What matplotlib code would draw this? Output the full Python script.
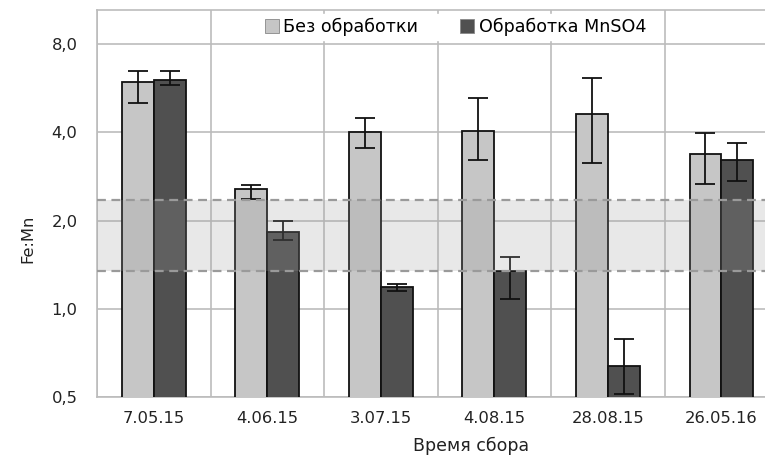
import numpy as np
import matplotlib.pyplot as plt
from matplotlib.ticker import FixedLocator, NullLocator

# data
dates = ['7.05.15', '4.06.15', '3.07.15', '4.08.15', '28.08.15', '26.05.16']
control = [5.95, 2.56, 4.02, 4.04, 4.61, 3.36]
control_lo = [5.02, 2.37, 3.54, 3.22, 3.15, 2.67]
control_hi = [6.47, 2.64, 4.46, 5.22, 6.11, 3.99]
treated = [6.03, 1.83, 1.19, 1.34, 0.64, 3.22]
treated_lo = [5.80, 1.71, 1.15, 1.08, 0.51, 2.73]
treated_hi = [6.47, 2.00, 1.21, 1.50, 0.79, 3.67]
band = (1.35, 2.35)
yticks = [0.5, 1.0, 2.0, 4.0, 8.0]
ytick_labels = ['0,5', '1,0', '2,0', '4,0', '8,0']

plt.rcParams['font.family'] = ['DejaVu Sans']

fig = plt.figure(figsize=(7.65, 4.57), dpi=100)
ax = fig.add_axes([97 / 765, 1 - 397 / 457, 1 - 97 / 765, (397 - 10) / 457])

x = np.arange(len(dates))
w = 0.28
light = '#c6c6c6'
dark = '#505050'

err_c = [np.array(control) - np.array(control_lo), np.array(control_hi) - np.array(control)]
err_t = [np.array(treated) - np.array(treated_lo), np.array(treated_hi) - np.array(treated)]

ax.bar(x - w / 2, control, w, color=light, edgecolor='#111111', linewidth=1.3,
       label='Без обработки', zorder=3)
ax.bar(x + w / 2, treated, w, color=dark, edgecolor='#111111', linewidth=1.3,
       label='Обработка MnSO4', zorder=3)
ax.errorbar(x - w / 2, control, yerr=err_c, fmt='none', ecolor='#111111',
            elinewidth=1.3, capsize=7, capthick=1.3, zorder=4)
ax.errorbar(x + w / 2, treated, yerr=err_t, fmt='none', ecolor='#111111',
            elinewidth=1.3, capsize=7, capthick=1.3, zorder=4)

# optimal range band
ax.axhspan(band[0], band[1], color='#9a9a9a', alpha=0.22, linewidth=0, zorder=5)
ax.axhline(band[0], color='#9a9a9a', linestyle=(0, (4, 2.5)), linewidth=1.6, zorder=6)
ax.axhline(band[1], color='#9a9a9a', linestyle=(0, (4, 2.5)), linewidth=1.6, zorder=6)

ax.set_yscale('log', base=2)
ax.set_ylim(0.5, 10.45)
ax.yaxis.set_major_locator(FixedLocator(yticks))
ax.yaxis.set_minor_locator(NullLocator())
ax.set_yticklabels(ytick_labels)
ax.set_xlim(-0.5, 5.385)
ax.set_xticks(x)
ax.set_xticklabels(dates)
ax.xaxis.set_minor_locator(FixedLocator(np.arange(-0.5, 6, 1)))

ax.grid(True, axis='y', which='major', color='#bcbcbc', linewidth=1.2, zorder=0)
ax.grid(True, axis='x', which='minor', color='#bcbcbc', linewidth=1.2, zorder=0)
ax.tick_params(axis='both', which='both', length=0, labelsize=11.8, colors='#222222')
ax.tick_params(axis='x', pad=10)
ax.tick_params(axis='y', pad=14)
for s in ['left', 'bottom', 'top']:
    ax.spines[s].set_color('#bcbcbc')
    ax.spines[s].set_linewidth(1.2)
ax.spines['right'].set_visible(False)

ax.set_ylabel('Fe:Mn', fontsize=11.8, color='#222222')
ax.yaxis.set_label_coords(-0.092, 0.41)
ax.set_xlabel('Время сбора', fontsize=12.5, color='#222222')
ax.xaxis.set_label_coords(0.56, -0.104)

leg = ax.legend(loc='upper center', bbox_to_anchor=(0.537, 1.0), ncol=2, frameon=True,
                fontsize=12.6, handlelength=0.8, handleheight=0.8, handletextpad=0.25,
                columnspacing=2.4, borderpad=0.2, borderaxespad=0.25, fancybox=False)
leg.get_frame().set_edgecolor('white')
leg.get_frame().set_facecolor('white')
leg.get_frame().set_alpha(1)
for h in leg.legend_handles:
    h.set_edgecolor('#888888')
    h.set_linewidth(0.6)
leg.set_zorder(10)

fig.savefig('out.png', dpi=100)
